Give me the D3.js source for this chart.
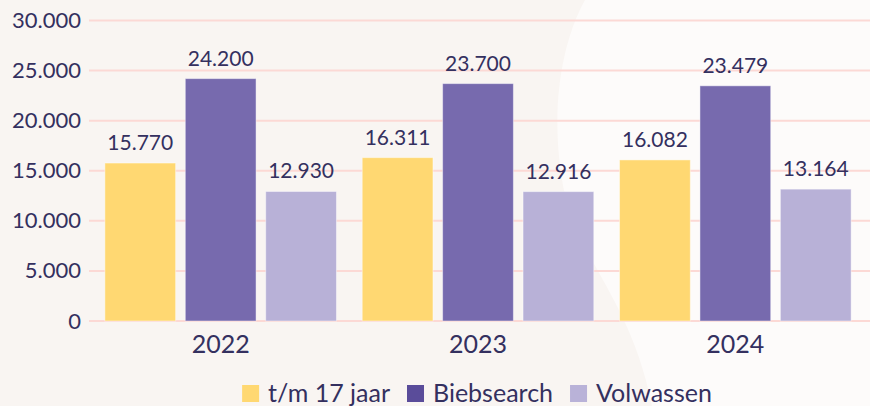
<!DOCTYPE html>
<html>
<head>
<meta charset="utf-8">
<script src="https://cdn.jsdelivr.net/npm/d3@7"></script>
<style>
  html, body { margin: 0; padding: 0; background: #f9f5f2; }
  #chart svg { display: block; }
</style>
</head>
<body>
<div id="chart"></div>
<script>
// chart data
var years = ["2022", "2023", "2024"];
var seriesNames = ["t/m 17 jaar", "Biebsearch", "Volwassen"];
var jeugd = [15770, 16311, 16082];
var biebsearch = [24200, 23700, 23479];
var volwassen = [12930, 12916, 13164];
var yTicks = [0, 5000, 10000, 15000, 20000, 25000, 30000];

var barColors = ["#ffd872", "#776aae", "#b8b1d7"];
var legendColors = ["#ffd872", "#5a4c9a", "#b9b2d8"];
var textColor = "#34305f";
var fontFam = "Lato, 'Open Sans', sans-serif";

var chart = {
  onLoad: function() {
    var values = [jeugd, biebsearch, volwassen];
    var data = years.map(function(y, i) {
      return { year: y, vals: seriesNames.map(function(s, j) { return { key: s, idx: j, value: values[j][i] } }) }
    });
    this.drawChart(data, { width: 870, height: 406 });
  },

  drawChart: function(data, options) {
    var width = options.width, height = options.height;
    var svg = d3.select("#chart").append("svg")
      .attr("width", width)
      .attr("height", height)
      .style("font-family", fontFam);

    // background + soft white blob at the right
    svg.append("rect").attr("width", width).attr("height", height).attr("fill", "#f9f5f2");
    svg.append("path")
      .attr("d", "M585,0 C560,45 548,120 566,200 C584,265 632,305 652,406 L870,406 L870,0 Z")
      .attr("fill", "#fdfbfa");

    var x0 = d3.scaleBand().domain(years).range([92, 864]).paddingInner(0.1).paddingOuter(0.05);
    var x1 = d3.scaleBand().domain(seriesNames).range([0, x0.bandwidth()]).paddingInner(0.12);
    var y = d3.scaleLinear().domain([0, 30000]).range([321, 20.5]);
    var fmt = function(v) { return d3.format(",")(v).replace(/,/g, ".") };

    // gridlines
    svg.append("g").selectAll("line")
      .data(yTicks).enter().append("line")
      .attr("x1", 89).attr("x2", width)
      .attr("y1", function(d) { return y(d) }).attr("y2", function(d) { return y(d) })
      .attr("stroke", "#fcd9d5").attr("stroke-width", 2);

    // y axis labels
    var yAxis = svg.append("g")
      .attr("transform", "translate(89,0)")
      .call(d3.axisLeft(y).tickValues(yTicks).tickSize(0).tickPadding(8).tickFormat(fmt));
    yAxis.select(".domain").remove();
    yAxis.selectAll("text").attr("fill", textColor)
      .style("font-size", "22px").style("font-family", fontFam);

    // bars
    var groups = svg.selectAll(".grp").data(data).enter().append("g")
      .attr("transform", function(d) { return "translate(" + x0(d.year) + ",0)" });

    groups.selectAll("rect").data(function(d) { return d.vals }).enter().append("rect")
      .attr("x", function(d) { return x1(d.key) })
      .attr("width", x1.bandwidth())
      .attr("y", function(d) { return y(d.value) })
      .attr("height", function(d) { return y(0) - y(d.value) })
      .attr("fill", function(d) { return barColors[d.idx] })
      .attr("stroke", "rgba(255,255,255,0.45)")
      .attr("stroke-width", 1);

    groups.selectAll("text").data(function(d) { return d.vals }).enter().append("text")
      .attr("x", function(d) { return x1(d.key) + x1.bandwidth() / 2 })
      .attr("y", function(d) { return y(d.value) - 13 })
      .attr("text-anchor", "middle")
      .attr("fill", textColor)
      .style("font-size", "21px")
      .text(function(d) { return fmt(d.value) });

    // x axis labels
    var xAxis = svg.append("g")
      .attr("transform", "translate(0,321)")
      .call(d3.axisBottom(x0).tickSize(0).tickPadding(14));
    xAxis.select(".domain").remove();
    xAxis.selectAll("text").attr("fill", textColor)
      .style("font-size", "25px").style("font-family", fontFam);

    // legend
    var legend = svg.append("g");
    var items = legend.selectAll("g").data(seriesNames).enter().append("g");
    items.append("rect")
      .attr("y", 385).attr("width", 17).attr("height", 17)
      .attr("fill", function(d, i) { return legendColors[i] });
    items.append("text")
      .attr("x", 26).attr("y", 402)
      .attr("fill", textColor)
      .style("font-size", "25px")
      .text(function(d) { return d });
    var xpos = 0, offsets = [];
    items.each(function() {
      offsets.push(xpos);
      xpos += this.getBBox().width + 17;
    });
    var total = xpos - 17;
    var start = 477 - total / 2;
    items.attr("transform", function(d, i) { return "translate(" + (start + offsets[i]) + ",0)" });
  }
}

chart.onLoad();
</script>
</body>
</html>
